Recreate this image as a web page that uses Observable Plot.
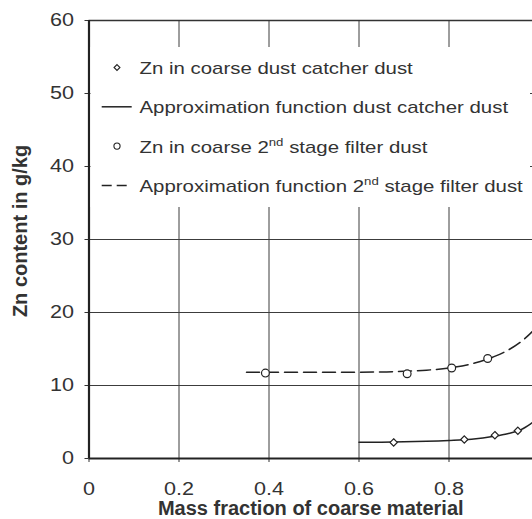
<!DOCTYPE html>
<html>
<head>
<meta charset="utf-8">
<script src="https://cdn.jsdelivr.net/npm/d3@7"></script>
<script src="https://cdn.jsdelivr.net/npm/@observablehq/plot@0.6"></script>
<style>
  html, body { margin: 0; padding: 0; background: white; overflow: hidden; }
  svg { overflow: hidden; }
</style>
</head>
<body>
<script>
// ---- data ----
const catcherX = [0.677, 0.834, 0.902, 0.953];
const catcherY = [2.2, 2.6, 3.2, 3.8];
const filterX = [0.392, 0.707, 0.806, 0.886];
const filterY = [11.7, 11.6, 12.4, 13.7];

const catcherFitX = [0.6, 0.65, 0.7, 0.75, 0.8, 0.85, 0.9, 0.93, 0.96, 0.99, 1.0];
const catcherFitY = [2.22, 2.24, 2.28, 2.35, 2.47, 2.65, 3.05, 3.4, 3.95, 5.1, 5.5];
const filterFitX = [0.35, 0.45, 0.55, 0.65, 0.7, 0.75, 0.8, 0.85, 0.9, 0.93, 0.96, 0.99, 1.0];
const filterFitY = [11.8, 11.8, 11.8, 11.85, 11.95, 12.1, 12.4, 12.95, 13.95, 14.8, 16.0, 17.7, 18.4];

const xTicks = [0, 0.2, 0.4, 0.6, 0.8];
const yTicks = [0, 10, 20, 30, 40, 50, 60];
const xGrid = [0.2, 0.4, 0.6, 0.8, 1.0];
const yGrid = [10, 20, 30, 40, 50];
const yTop = [60];
const axisZero = [0];

const xLabel = "Mass fraction of coarse material";
const yLabel = "Zn content in g/kg";

const legendItems = [
  {kind: "diamond", parts: ["Zn in coarse dust catcher dust"]},
  {kind: "solid", parts: ["Approximation function dust catcher dust"]},
  {kind: "circle", parts: ["Zn in coarse 2", "nd", " stage filter dust"]},
  {kind: "dashed", parts: ["Approximation function 2", "nd", " stage filter dust"]}
];

const catcher = catcherX.map((x, i) => ({x, y: catcherY[i]}));
const filter = filterX.map((x, i) => ({x, y: filterY[i]}));
const catcherFit = catcherFitX.map((x, i) => ({x, y: catcherFitY[i]}));
const filterFit = filterFitX.map((x, i) => ({x, y: filterFitY[i]}));

const ink = "#222";
const gridInk = "#3c3c3c";
const font = "'Liberation Sans', Arial, Helvetica, sans-serif";

const plot = Plot.plot({
  width: 532,
  height: 519,
  marginLeft: 88.5,
  marginRight: 0,
  marginTop: 20,
  marginBottom: 61,
  style: {fontFamily: font, fontSize: "18px", color: "#333", background: "white", overflow: "hidden"},
  x: {domain: [0, 1], range: [88.5, 538.5], ticks: xTicks, tickSize: 4, tickPadding: 20, label: null, tickFormat: d3.format("")},
  y: {domain: [0, 60], ticks: yTicks, tickSize: 4, tickPadding: 11, label: null},
  marks: [
    Plot.ruleY(yGrid, {stroke: gridInk, strokeWidth: 1}),
    Plot.ruleX(xGrid, {stroke: gridInk, strokeWidth: 1}),
    Plot.ruleY(yTop, {stroke: "#333", strokeWidth: 1.6}),
    Plot.line(filterFit, {x: "x", y: "y", curve: "monotone-x", stroke: ink, strokeWidth: 1.5, strokeDasharray: "13,6"}),
    Plot.line(catcherFit, {x: "x", y: "y", curve: "monotone-x", stroke: ink, strokeWidth: 1.5}),
    Plot.dot(filter, {x: "x", y: "y", symbol: "circle", r: 3.9, stroke: ink, strokeWidth: 1.2, fill: "white"}),
    Plot.dot(catcher, {x: "x", y: "y", symbol: "diamond2", r: 3.3, stroke: ink, strokeWidth: 1.2, fill: "white"}),
    Plot.ruleX(axisZero, {stroke: "#222", strokeWidth: 2.2}),
    Plot.ruleY(axisZero, {stroke: "#222", strokeWidth: 2.2}),
    Plot.text([xLabel], {text: d => d, frameAnchor: "bottom", textAnchor: "middle", lineAnchor: "middle", dy: 50.5, fontWeight: "bold", fontSize: 20, fill: "#333"}),
    Plot.text([yLabel], {text: d => d, frameAnchor: "left", textAnchor: "middle", lineAnchor: "middle", rotate: -90, dx: -68.2, dy: -8.5, fontWeight: "bold", fontSize: 20, fill: "#333"})
  ]
});
document.body.append(plot);

// horizontally widen the tick labels (the reference type is set wide)
function stretch(t, f) {
  const w = t.getComputedTextLength();
  if (w > 0) {
    t.setAttribute("textLength", (w * f).toFixed(1));
    t.setAttribute("lengthAdjust", "spacingAndGlyphs");
  }
}
plot.querySelectorAll("text").forEach(t => {
  const g = t.closest('g[aria-label="text"]');
  if (!g) stretch(t, 1.2);
});

// legend (white box over the grid, as in the reference)
const svg = d3.select(plot);
const lg = svg.append("g").attr("font-family", font).attr("font-size", 17).attr("fill", "#333").attr("text-anchor", "start");
lg.append("rect").attr("x", 90.5).attr("y", 47).attr("width", 439.5).attr("height", 160).attr("fill", "white");
const rowY0 = 67.5, rowStep = 39.3;
legendItems.forEach((item, i) => {
  const cy = rowY0 + i * rowStep;
  if (item.kind === "diamond" || item.kind === "circle") {
    const sym = item.kind === "diamond" ? d3.symbolDiamond2 : d3.symbolCircle;
    const size = item.kind === "diamond" ? 22 : 30;
    lg.append("path").attr("d", d3.symbol(sym, size)())
      .attr("transform", `translate(117,${cy})`)
      .attr("fill", "white").attr("stroke", ink).attr("stroke-width", 1.1);
  } else {
    lg.append("line").attr("x1", 101.7).attr("x2", 131.7).attr("y1", cy).attr("y2", cy)
      .attr("stroke", ink).attr("stroke-width", 1.5)
      .attr("stroke-dasharray", item.kind === "dashed" ? "10,5" : null);
  }
  const t = lg.append("text").attr("x", 139.5).attr("y", cy + 6.4).attr("text-anchor", "start");
  item.parts.forEach((p, j) => {
    if (j === 1) t.append("tspan").attr("dy", -7).attr("font-size", 11).text(p);
    else if (j === 2) t.append("tspan").attr("dy", 7).text(p);
    else t.append("tspan").text(p);
  });
  stretch(t.node(), 1.2);
});
</script>
</body>
</html>
